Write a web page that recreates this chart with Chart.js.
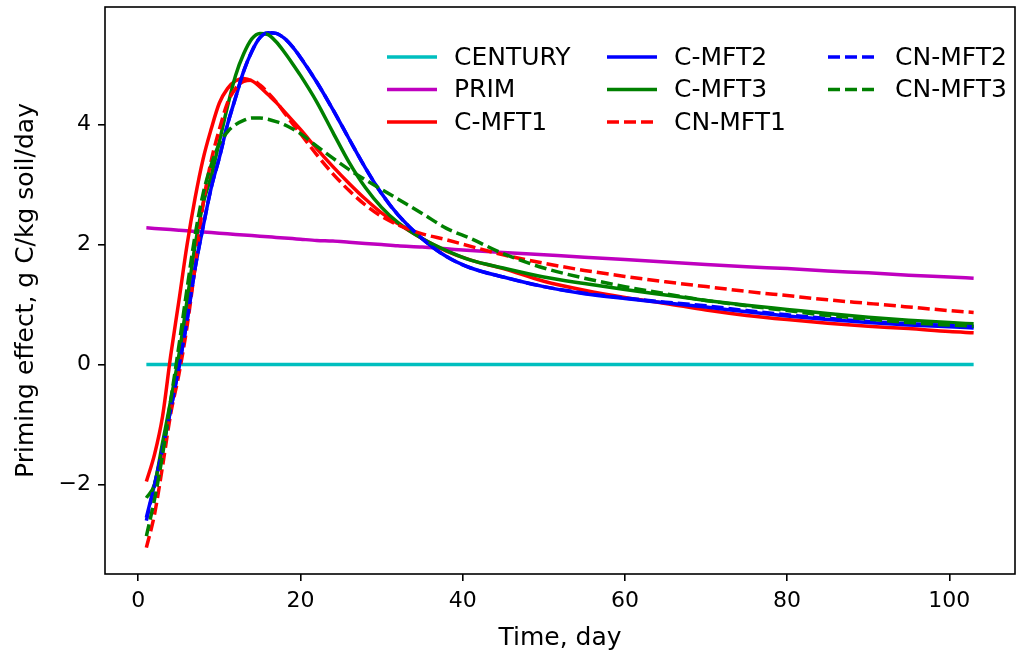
<!DOCTYPE html>
<html>
<head>
<meta charset="utf-8">
<script src="https://cdn.jsdelivr.net/npm/chart.js@4.4.1/dist/chart.umd.min.js"></script>
<style>
html,body{margin:0;padding:0;background:#fff;}
#wrap{width:1018px;height:659px;}
</style>
</head>
<body>
<div id="wrap"><canvas id="c" width="1018" height="659"></canvas></div>
<script>
const days = [1,2,3,4,5,6,7,8,9,10,11,12,13,14,15,16,17,18,19,20,22,24,26,28,30,32,35,38,41,45,50,55,60,65,70,75,80,85,90,95,100,103];

const century = [0,0,0,0,0,0,0,0,0,0,0,0,0,0,0,0,0,0,0,0,0,0,0,0,0,0,0,0,0,0,0,0,0,0,0,0,0,0,0,0,0,0];
const prim = [2.28,2.27,2.26,2.25,2.24,2.23,2.22,2.21,2.20,2.19,2.18,2.17,2.16,2.15,2.14,2.13,2.12,2.11,2.10,2.09,2.07,2.06,2.04,2.02,2.00,1.98,1.96,1.93,1.90,1.87,1.83,1.79,1.75,1.71,1.67,1.63,1.60,1.56,1.53,1.49,1.46,1.44];
const cmft1 = [-1.95,-1.5,-0.86,0.15,1.05,1.98,2.77,3.43,3.93,4.36,4.6,4.73,4.77,4.73,4.63,4.5,4.37,4.22,4.07,3.92,3.6,3.3,3.02,2.76,2.53,2.35,2.1,1.89,1.74,1.6,1.39,1.24,1.12,1.02,0.91,0.82,0.75,0.69,0.64,0.6,0.55,0.53];
const cmft2 = [-2.55,-2.0,-1.4,-0.75,-0.05,0.72,1.6,2.3,2.95,3.45,4.0,4.45,4.89,5.22,5.45,5.53,5.52,5.44,5.3,5.12,4.71,4.25,3.76,3.28,2.85,2.5,2.1,1.8,1.61,1.46,1.3,1.18,1.1,1.03,0.96,0.88,0.81,0.75,0.7,0.66,0.63,0.61];
const cmft3 = [-2.22,-2.0,-1.3,-0.6,0.15,1.05,1.98,2.68,3.15,3.72,4.3,4.82,5.18,5.43,5.52,5.5,5.38,5.21,5.02,4.82,4.38,3.87,3.37,2.95,2.62,2.37,2.1,1.9,1.74,1.61,1.46,1.35,1.25,1.16,1.07,0.99,0.92,0.85,0.79,0.74,0.7,0.68];
const cnmft1 = [-3.05,-2.5,-1.69,-0.82,-0.17,0.62,1.62,2.68,3.4,3.92,4.36,4.6,4.72,4.74,4.66,4.53,4.38,4.2,4.02,3.85,3.5,3.18,2.9,2.66,2.47,2.33,2.18,2.08,1.97,1.83,1.69,1.57,1.47,1.38,1.3,1.22,1.15,1.08,1.02,0.96,0.9,0.87];
const cnmft2 = [-2.6,-2.02,-1.41,-0.75,-0.05,0.72,1.6,2.3,2.95,3.45,4.0,4.45,4.89,5.22,5.45,5.53,5.52,5.44,5.3,5.12,4.71,4.25,3.76,3.28,2.85,2.5,2.1,1.8,1.61,1.46,1.3,1.19,1.11,1.04,0.98,0.9,0.83,0.77,0.72,0.68,0.65,0.63];
const cnmft3 = [-2.86,-2.25,-1.5,-0.6,0.3,1.25,2.15,2.85,3.33,3.68,3.88,4.0,4.07,4.11,4.11,4.09,4.05,4.0,3.93,3.85,3.64,3.44,3.25,3.08,2.92,2.76,2.52,2.27,2.1,1.85,1.61,1.44,1.3,1.18,1.07,0.98,0.9,0.82,0.76,0.7,0.66,0.64];

const seriesNames = ['CENTURY','PRIM','C-MFT1','C-MFT2','C-MFT3','CN-MFT1','CN-MFT2','CN-MFT3'];
const seriesValues = [century, prim, cmft1, cmft2, cmft3, cnmft1, cnmft2, cnmft3];
const seriesColors = ['#00BFBF','#BF00BF','#FF0000','#0000FF','#008000','#FF0000','#0000FF','#008000'];
const seriesDashed = [false,false,false,false,false,true,true,true];

const xTicks = [0,20,40,60,80,100];
const yTicks = [-2,0,2,4];
const xLabel = 'Time, day';
const yLabel = 'Priming effect, g C/kg soil/day';

Chart.defaults.font.family = "'DejaVu Sans', sans-serif";
Chart.defaults.color = '#000';

const LW = 3.5;
const DASH = [12, 5];

const datasets = seriesNames.map((name, i) => ({
  label: name,
  data: days.map((d, j) => ({x: d, y: seriesValues[i][j]})),
  borderColor: seriesColors[i],
  backgroundColor: seriesColors[i],
  borderWidth: LW,
  borderDash: seriesDashed[i] ? DASH : [],
  pointRadius: 0,
  fill: false,
  cubicInterpolationMode: 'monotone',
  order: seriesNames.length - i,
  borderCapStyle: 'butt'
}));

const framePlugin = {
  id: 'frame',
  afterDraw(chart) {
    const {ctx, chartArea: a} = chart;
    ctx.save();
    ctx.strokeStyle = '#000';
    ctx.lineWidth = 1.6;
    ctx.strokeRect(a.left, a.top, a.right - a.left, a.bottom - a.top);
    ctx.restore();
  }
};

const legendPlugin = {
  id: 'mplLegend',
  afterDatasetsDraw(chart) {
    const ctx = chart.ctx;
    const colX = [387, 607, 828];
    const rowY = [57, 89.5, 122];
    const handle = 50;
    ctx.save();
    ctx.font = "25px 'DejaVu Sans'";
    ctx.textBaseline = 'middle';
    ctx.fillStyle = '#000';
    seriesNames.forEach((name, i) => {
      const col = Math.floor(i / 3), row = i % 3;
      const x = colX[col], y = rowY[row];
      ctx.beginPath();
      ctx.strokeStyle = seriesColors[i];
      ctx.lineWidth = LW;
      ctx.setLineDash(seriesDashed[i] ? DASH : []);
      ctx.moveTo(x, y);
      ctx.lineTo(x + handle, y);
      ctx.stroke();
      ctx.setLineDash([]);
      ctx.fillText(name, x + handle + 17, y + 1);
    });
    ctx.restore();
  }
};

const fmt = v => (v < 0 ? '\u2212' + Math.abs(v) : String(v));

new Chart(document.getElementById('c'), {
  type: 'line',
  data: { datasets },
  options: {
    responsive: false,
    animation: false,
    devicePixelRatio: 1,
    layout: { padding: { left: 0, right: 3, top: 7, bottom: 0 } },
    plugins: { legend: { display: false }, tooltip: { enabled: false } },
    scales: {
      x: {
        type: 'linear',
        min: -4.1, max: 108.1,
        afterBuildTicks: s => { s.ticks = xTicks.map(v => ({value: v})); },
        afterFit: s => { s.height = 85; s.paddingLeft = 0; s.paddingRight = 0; },
        ticks: { font: { size: 22 }, padding: 7, maxRotation: 0, callback: v => fmt(v), color: '#000' },
        grid: { display: true, drawOnChartArea: false, drawTicks: true, tickLength: 7, color: '#000', lineWidth: 1.6 },
        border: { display: false },
        title: { display: true, text: xLabel, font: { size: 25, lineHeight: 1.36 }, color: '#000' }
      },
      y: {
        type: 'linear',
        min: -3.49, max: 5.96,
        afterBuildTicks: s => { s.ticks = yTicks.map(v => ({value: v})); },
        afterFit: s => { s.width = 105; s.paddingTop = 0; s.paddingBottom = 0; },
        ticks: { font: { size: 22 }, padding: 7, callback: v => fmt(v), color: '#000' },
        grid: { display: true, drawOnChartArea: false, drawTicks: true, tickLength: 7, color: '#000', lineWidth: 1.6 },
        border: { display: false },
        title: { display: true, text: yLabel, font: { size: 25, lineHeight: 1.76 }, color: '#000' }
      }
    }
  },
  plugins: [framePlugin, legendPlugin]
});
</script>
</body>
</html>
